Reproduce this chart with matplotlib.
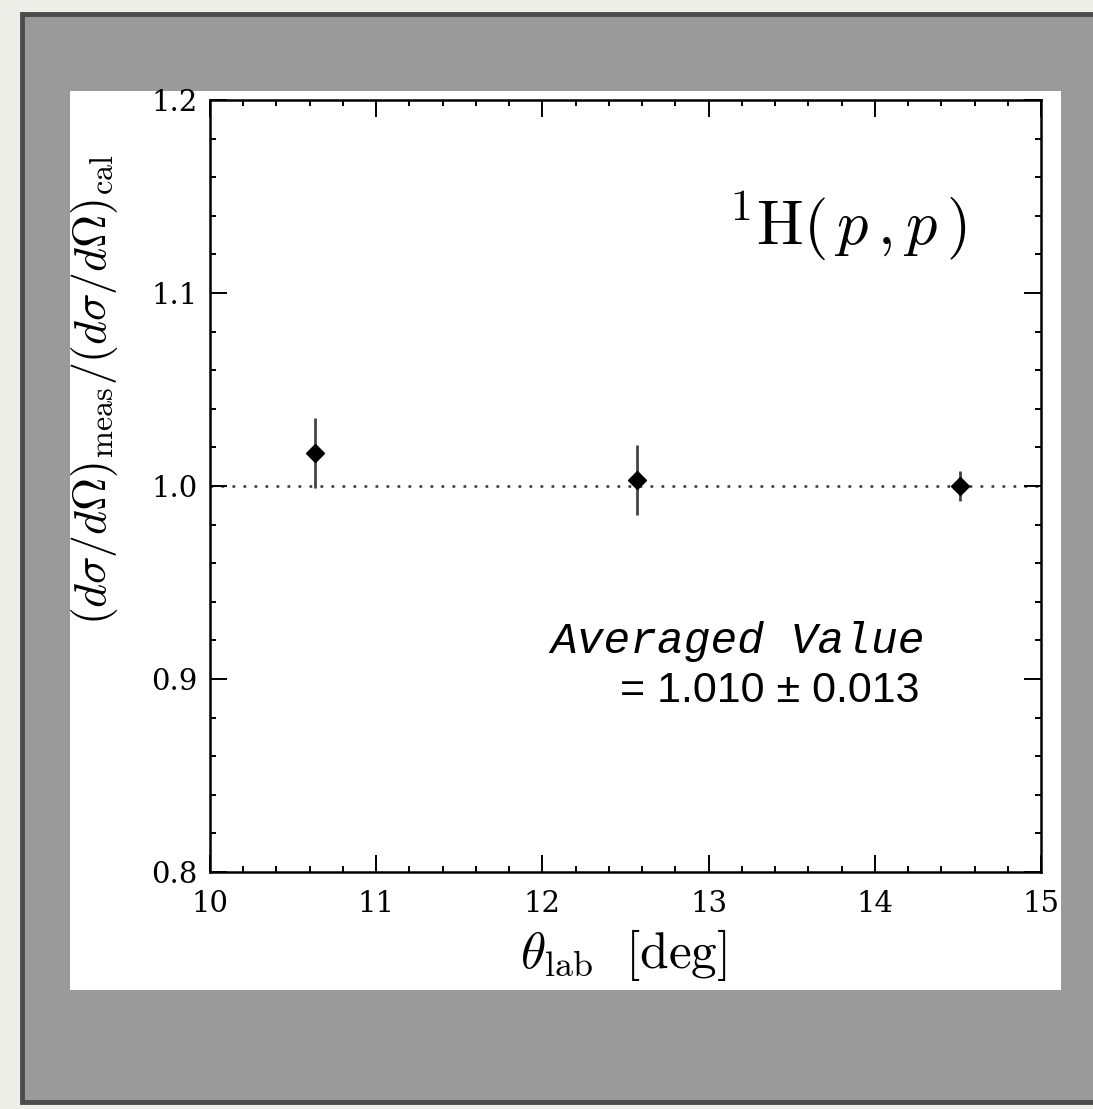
import matplotlib
matplotlib.use("Agg")
import matplotlib.pyplot as plt
from matplotlib.patches import Rectangle
from matplotlib.ticker import MultipleLocator, FormatStrFormatter

# data
theta_lab = [10.63, 12.57, 14.51]
ratio = [1.017, 1.003, 1.000]
ratio_err = [0.018, 0.018, 0.008]
ref_level = 1.0
avg_text = "= 1.010 \u00b1 0.013"

W, H = 1093, 1109
plt.rcParams['mathtext.fontset'] = 'cm'
plt.rcParams['font.family'] = 'DejaVu Serif'
plt.rcParams['xtick.labelsize'] = 21
plt.rcParams['ytick.labelsize'] = 21

fig = plt.figure(figsize=(W / 100, H / 100), dpi=100)
fig.patch.set_facecolor('#eeeee9')


def box(x0, y0, x1, y1):
    # pixel box -> figure fraction (x, y, w, h)
    return x0 / W, 1 - y1 / H, (x1 - x0) / W, (y1 - y0) / H


def pt(x, y):
    return x / W, 1 - y / H


# slide background: dark frame, gray fill, white panel
x, y, w, h = box(22, 14, 1110, 1102)
fig.patches.append(Rectangle((x, y), w, h, transform=fig.transFigure,
                             facecolor='#9a9a9a', edgecolor='#4b4b4b', lw=3.5, zorder=0))
x, y, w, h = box(70, 91, 1061, 990)
fig.patches.append(Rectangle((x, y), w, h, transform=fig.transFigure,
                             facecolor='white', edgecolor='none', zorder=1))

ax = fig.add_axes(box(210, 100, 1041, 872))
ax.set_facecolor('white')
ax.set_zorder(2)

ax.axhline(ref_level, color='#333333', lw=1.8, dashes=(1.1, 3.3), zorder=1)
ax.errorbar(theta_lab, ratio, yerr=ratio_err, fmt='D', color='black',
            ecolor='#444444', elinewidth=2.0, capsize=0, markersize=9, zorder=3)

ax.set_xlim(10, 15)
ax.set_ylim(0.8, 1.2)
ax.xaxis.set_major_locator(MultipleLocator(1))
ax.xaxis.set_minor_locator(MultipleLocator(0.2))
ax.yaxis.set_major_locator(MultipleLocator(0.1))
ax.yaxis.set_minor_locator(MultipleLocator(0.02))
ax.yaxis.set_major_formatter(FormatStrFormatter('%.1f'))

ax.tick_params(which='both', direction='in', top=True, right=True, width=1.4, colors='black')
ax.tick_params(which='major', length=12.5)
ax.tick_params(which='minor', length=4.3)
ax.tick_params(axis='x', pad=13)
ax.tick_params(axis='y', pad=9)
for s in ax.spines.values():
    s.set_linewidth(1.8)

fig.text(*pt(623, 968), r'$\theta_{\rm lab}\ \ [\rm deg]$', fontsize=37,
         ha='center', va='baseline', zorder=5)
fig.text(*pt(95, 390), r'$(d\sigma/d\Omega)_{\rm meas}/(d\sigma/d\Omega)_{\rm cal}$',
         fontsize=33, rotation=90, ha='center', va='center', zorder=5)

fig.text(*pt(728, 245), r'$^{1}\mathrm{H}(\,p\,,p\,)$', fontsize=45,
         ha='left', va='baseline', zorder=5)
fig.text(*pt(550, 653), 'Averaged Value', fontsize=32, family='Liberation Mono',
         style='italic', ha='left', va='baseline', zorder=5)
fig.text(*pt(920, 702), avg_text, fontsize=31, family='Liberation Sans',
         ha='right', va='baseline', zorder=5)

fig.savefig('out.png', dpi=100)
